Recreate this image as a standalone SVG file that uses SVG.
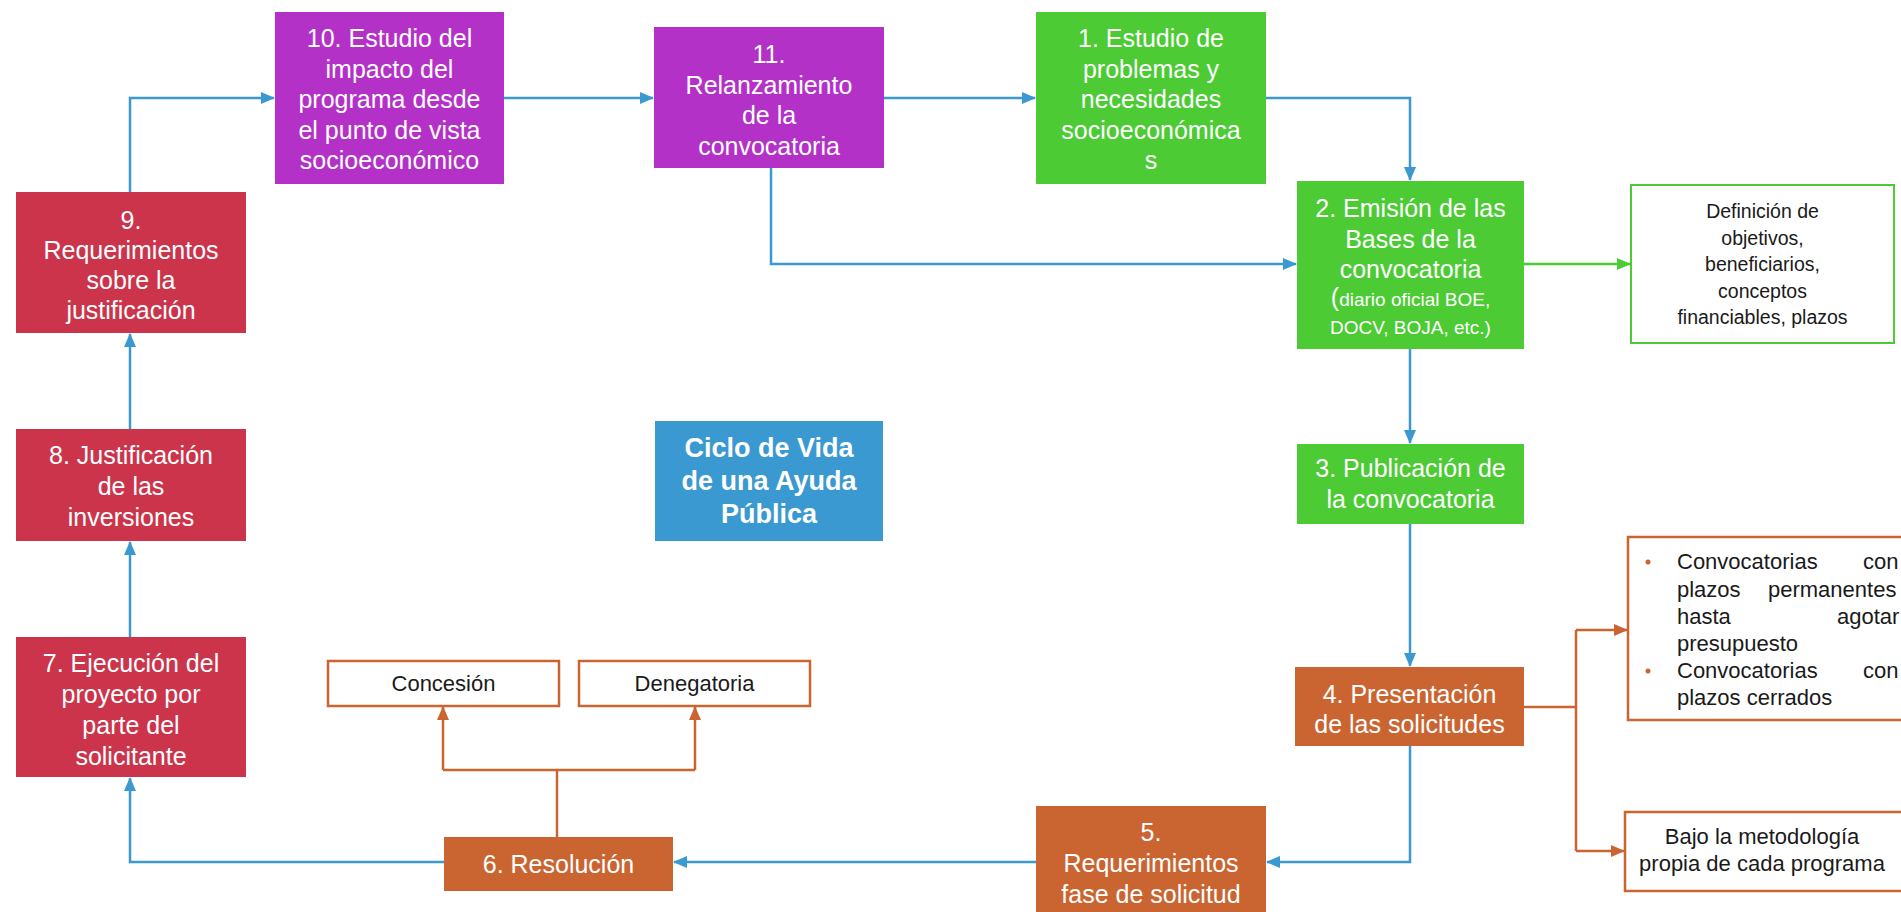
<svg xmlns="http://www.w3.org/2000/svg" width="1901" height="912" viewBox="0 0 1901 912">
<defs>
<style>
.t{font-family:"Liberation Sans",Arial,sans-serif;font-size:25px;fill:#ffffff;text-anchor:middle}
.s{font-family:"Liberation Sans",Arial,sans-serif;font-size:22px;fill:#1a1a1a;text-anchor:middle}
.b{font-family:"Liberation Sans",Arial,sans-serif;font-size:22px;fill:#1a1a1a}
.purple{fill:#B431C8}
.green{fill:#4CCB35}
.red{fill:#CB344B}
.orange{fill:#CA6532}
.blue{fill:#3A99D0}
.ob{fill:#ffffff;stroke:#CA6532;stroke-width:2.5}
.gb{fill:#ffffff;stroke:#4CCB35;stroke-width:2}
.cb{fill:none;stroke:#3A99D0;stroke-width:2.5}
.co{fill:none;stroke:#CA6532;stroke-width:2.5}
.cg{fill:none;stroke:#4CCB35;stroke-width:2.5}
</style>
<marker id="ab" markerUnits="userSpaceOnUse" markerWidth="14" markerHeight="12" refX="13" refY="6" orient="auto"><path d="M0,0 L14,6 L0,12 Z" fill="#3A99D0"/></marker>
<marker id="ao" markerUnits="userSpaceOnUse" markerWidth="14" markerHeight="12" refX="13" refY="6" orient="auto"><path d="M0,0 L14,6 L0,12 Z" fill="#CA6532"/></marker>
<marker id="ag" markerUnits="userSpaceOnUse" markerWidth="14" markerHeight="12" refX="13" refY="6" orient="auto"><path d="M0,0 L14,6 L0,12 Z" fill="#4CCB35"/></marker>
</defs>
<rect width="1901" height="912" fill="#ffffff"/>

<g id="connectors">
<path class="cb" d="M130,192 V98 H274" marker-end="url(#ab)"/>
<path class="cb" d="M504,98 H653" marker-end="url(#ab)"/>
<path class="cb" d="M884,98 H1035" marker-end="url(#ab)"/>
<path class="cb" d="M1266,98 H1410 V180" marker-end="url(#ab)"/>
<path class="cb" d="M771,168 V264 H1296" marker-end="url(#ab)"/>
<path class="cg" d="M1524,264 H1630" marker-end="url(#ag)"/>
<path class="cb" d="M1410,349 V443" marker-end="url(#ab)"/>
<path class="cb" d="M1410,524 V666" marker-end="url(#ab)"/>
<path class="co" d="M1524,707 H1576"/>
<path class="co" d="M1576,630 V851"/>
<path class="co" d="M1576,630 H1627" marker-end="url(#ao)"/>
<path class="co" d="M1576,851 H1624" marker-end="url(#ao)"/>
<path class="cb" d="M1410,746 V862 H1267" marker-end="url(#ab)"/>
<path class="cb" d="M1036,862 H674" marker-end="url(#ab)"/>
<path class="cb" d="M444,862 H130 V778" marker-end="url(#ab)"/>
<path class="cb" d="M130,637 V542" marker-end="url(#ab)"/>
<path class="cb" d="M130,429 V334" marker-end="url(#ab)"/>
<path class="co" d="M557,837 V770"/>
<path class="co" d="M443,770 H695"/>
<path class="co" d="M443,770 V707" marker-end="url(#ao)"/>
<path class="co" d="M695,770 V707" marker-end="url(#ao)"/>
</g>

<g id="n10"><rect class="purple" x="275" y="12" width="229" height="172"/>
<text class="t"><tspan x="389.5" y="47">10. Estudio del</tspan><tspan x="389.5" y="77.5">impacto del</tspan><tspan x="389.5" y="108">programa desde</tspan><tspan x="389.5" y="138.5">el punto de vista</tspan><tspan x="389.5" y="169">socioeconómico</tspan></text></g>

<g id="n11"><rect class="purple" x="654" y="27" width="230" height="141"/>
<text class="t"><tspan x="769" y="63">11.</tspan><tspan x="769" y="93.5">Relanzamiento</tspan><tspan x="769" y="124">de la</tspan><tspan x="769" y="154.5">convocatoria</tspan></text></g>

<g id="n1"><rect class="green" x="1036" y="12" width="230" height="172"/>
<text class="t"><tspan x="1151" y="47">1. Estudio de</tspan><tspan x="1151" y="77.5">problemas y</tspan><tspan x="1151" y="108">necesidades</tspan><tspan x="1151" y="138.5">socioeconómica</tspan><tspan x="1151" y="169">s</tspan></text></g>

<g id="n2"><rect class="green" x="1297" y="181" width="227" height="168"/>
<text class="t"><tspan x="1410.5" y="217">2. Emisión de las</tspan><tspan x="1410.5" y="247.5">Bases de la</tspan><tspan x="1410.5" y="278">convocatoria</tspan></text>
<text class="t" style="font-size:19px"><tspan x="1410.5" y="306"><tspan style="font-size:25px">(</tspan>diario oficial BOE,</tspan><tspan x="1410.5" y="334">DOCV, BOJA, etc.)</tspan></text></g>

<g id="ndef"><rect class="gb" x="1631" y="185" width="263" height="158"/>
<text class="s" style="font-size:19.5px"><tspan x="1762.5" y="218">Definición de</tspan><tspan x="1762.5" y="244.5">objetivos,</tspan><tspan x="1762.5" y="271">beneficiarios,</tspan><tspan x="1762.5" y="297.5">conceptos</tspan><tspan x="1762.5" y="324">financiables, plazos</tspan></text></g>

<g id="n3"><rect class="green" x="1297" y="444" width="227" height="80"/>
<text class="t"><tspan x="1410.5" y="477">3. Publicación de</tspan><tspan x="1410.5" y="507.5">la convocatoria</tspan></text></g>

<g id="nbullets"><rect class="ob" x="1628" y="537" width="290" height="183"/>
<circle cx="1648" cy="562" r="2.5" fill="#CA6532"/>
<circle cx="1648" cy="671" r="2.5" fill="#CA6532"/>
<text class="b"><tspan x="1677" y="569">Convocatorias</tspan><tspan x="1863" y="569">con</tspan></text>
<text class="b"><tspan x="1677" y="597">plazos</tspan><tspan x="1768" y="597">permanentes</tspan></text>
<text class="b"><tspan x="1677" y="624">hasta</tspan><tspan x="1837" y="624">agotar</tspan></text>
<text class="b"><tspan x="1677" y="651">presupuesto</tspan></text>
<text class="b"><tspan x="1677" y="678">Convocatorias</tspan><tspan x="1863" y="678">con</tspan></text>
<text class="b"><tspan x="1677" y="705">plazos cerrados</tspan></text></g>

<g id="n4"><rect class="orange" x="1295" y="667" width="229" height="79"/>
<text class="t"><tspan x="1409.5" y="703">4. Presentación</tspan><tspan x="1409.5" y="733">de las solicitudes</tspan></text></g>

<g id="nbajo"><rect class="ob" x="1625" y="812" width="290" height="79"/>
<text class="s"><tspan x="1762" y="844">Bajo la metodología</tspan><tspan x="1762" y="871">propia de cada programa</tspan></text></g>

<g id="n5"><rect class="orange" x="1036" y="806" width="230" height="120"/>
<text class="t"><tspan x="1151" y="841">5.</tspan><tspan x="1151" y="872">Requerimientos</tspan><tspan x="1151" y="903">fase de solicitud</tspan></text></g>

<g id="n6"><rect class="orange" x="444" y="837" width="229" height="54"/>
<text class="t"><tspan x="558.5" y="873">6. Resolución</tspan></text></g>

<g id="nconc"><rect class="ob" x="328" y="661" width="231" height="45"/>
<text class="s"><tspan x="443.5" y="691">Concesión</tspan></text></g>

<g id="ndeneg"><rect class="ob" x="579" y="661" width="231" height="45"/>
<text class="s"><tspan x="694.5" y="691">Denegatoria</tspan></text></g>

<g id="n7"><rect class="red" x="16" y="637" width="230" height="140"/>
<text class="t"><tspan x="131" y="672">7. Ejecución del</tspan><tspan x="131" y="703">proyecto por</tspan><tspan x="131" y="734">parte del</tspan><tspan x="131" y="765">solicitante</tspan></text></g>

<g id="n8"><rect class="red" x="16" y="429" width="230" height="112"/>
<text class="t"><tspan x="131" y="464">8. Justificación</tspan><tspan x="131" y="495">de las</tspan><tspan x="131" y="526">inversiones</tspan></text></g>

<g id="n9"><rect class="red" x="16" y="192" width="230" height="141"/>
<text class="t"><tspan x="131" y="229">9.</tspan><tspan x="131" y="259">Requerimientos</tspan><tspan x="131" y="289">sobre la</tspan><tspan x="131" y="319">justificación</tspan></text></g>

<g id="ncenter"><rect class="blue" x="655" y="421" width="228" height="120"/>
<text class="t" style="font-weight:bold;font-size:27px"><tspan x="769" y="457">Ciclo de Vida</tspan><tspan x="769" y="490">de una Ayuda</tspan><tspan x="769" y="523">Pública</tspan></text></g>
</svg>
